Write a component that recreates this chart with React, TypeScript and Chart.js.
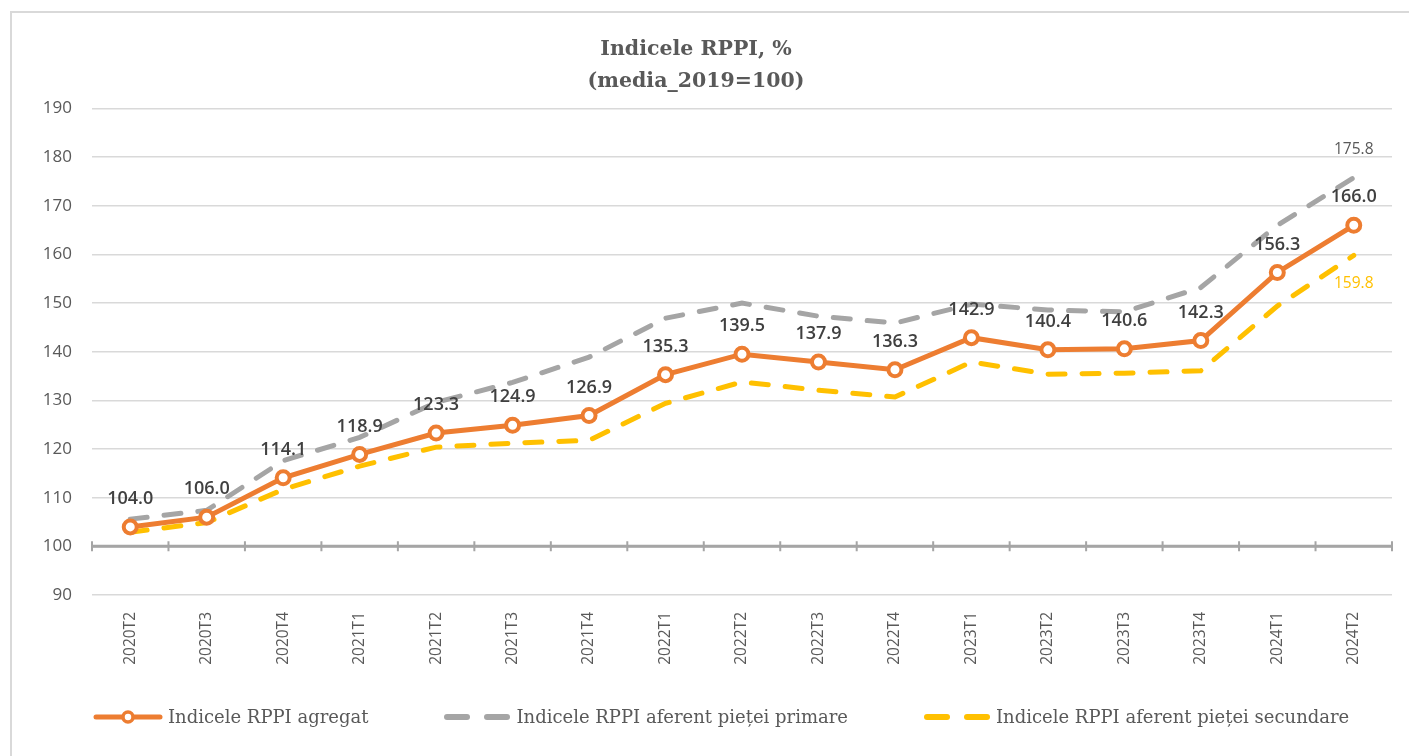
import React, { useEffect, useRef } from 'react';
import { Chart, registerables } from 'chart.js';

Chart.register(...registerables);

const categories = [
  '2020T2', '2020T3', '2020T4', '2021T1', '2021T2', '2021T3', '2021T4', '2022T1', '2022T2',
  '2022T3', '2022T4', '2023T1', '2023T2', '2023T3', '2023T4', '2024T1', '2024T2',
];

const aggregateValues = [104.0, 106.0, 114.1, 118.9, 123.3, 124.9, 126.9, 135.3, 139.5, 137.9, 136.3, 142.9, 140.4, 140.6, 142.3, 156.3, 166.0];
const primaryValues = [105.6, 107.4, 117.6, 122.4, 129.6, 133.7, 138.9, 146.9, 150.0, 147.3, 145.9, 149.8, 148.6, 148.2, 153.2, 166.0, 175.8];
const secondaryValues = [102.9, 104.9, 111.7, 116.5, 120.4, 121.2, 121.8, 129.4, 133.8, 132.1, 130.7, 137.9, 135.4, 135.6, 136.1, 149.4, 159.8];

const seriesNames = [
  'Indicele RPPI agregat',
  'Indicele RPPI aferent pieței primare',
  'Indicele RPPI aferent pieței secundare',
];

const titleLines = ['Indicele RPPI, %', '(media_2019=100)'];

const yMin = 90;
const yMax = 190;
const yStep = 10;
const baseValue = 100;

const ORANGE = '#ED7D31';
const GRAY = '#A5A5A5';
const YELLOW = '#FFC000';
const TEXT = '#595959';

const valueLabelPlugin = {
  id: 'valueLabels',
  afterDatasetsDraw(chart: any) {
    const ctx = chart.ctx;
    chart.data.datasets.forEach((ds: any, di: number) => {
      const cfg = ds.valueLabel;
      if (!cfg) return;
      const meta = chart.getDatasetMeta(di);
      meta.data.forEach((el: any, i: number) => {
        if (cfg.lastOnly && i !== meta.data.length - 1) return;
        const v = ds.data[i];
        ctx.save();
        ctx.font = cfg.font;
        ctx.fillStyle = cfg.color;
        ctx.textAlign = 'center';
        ctx.textBaseline = 'middle';
        ctx.fillText(Number(v).toFixed(1), el.x, el.y + cfg.dy);
        ctx.restore();
      });
    });
  },
};

const baseAxisPlugin = {
  id: 'baseAxis',
  beforeDatasetsDraw(chart: any, _args: any, opts: any) {
    const { ctx, chartArea, scales } = chart;
    const x = scales.x;
    const y = scales.y;
    const yp = y.getPixelForValue(opts.value);
    const n = chart.data.labels.length;
    const step = n > 1 ? x.getPixelForValue(1) - x.getPixelForValue(0) : chartArea.right - chartArea.left;
    ctx.save();
    ctx.strokeStyle = opts.color;
    ctx.lineWidth = 3;
    ctx.beginPath();
    ctx.moveTo(chartArea.left, yp);
    ctx.lineTo(chartArea.right, yp);
    ctx.stroke();
    ctx.lineWidth = 2;
    ctx.beginPath();
    for (let i = 0; i <= n; i++) {
      const px = x.getPixelForValue(0) - step / 2 + i * step;
      ctx.moveTo(px, yp - 5);
      ctx.lineTo(px, yp + 5);
    }
    ctx.stroke();
    ctx.restore();
  },
};

function LegendIcon({ kind, color }: { kind: 'solid' | 'dash'; color: string }) {
  if (kind === 'solid') {
    return (
      <svg width={70} height={20} style={{ display: 'block' }}>
        <line x1={3} y1={10} x2={67} y2={10} stroke={color} strokeWidth={5} strokeLinecap="round" />
        <circle cx={35} cy={10} r={5} fill="#fff" stroke={color} strokeWidth={3.5} />
      </svg>
    );
  }
  return (
    <svg width={68} height={20} style={{ display: 'block' }}>
      <line x1={4} y1={10} x2={24} y2={10} stroke={color} strokeWidth={6} strokeLinecap="round" />
      <line x1={44} y1={10} x2={64} y2={10} stroke={color} strokeWidth={6} strokeLinecap="round" />
    </svg>
  );
}

export default function App() {
  const canvasRef = useRef<HTMLCanvasElement | null>(null);

  useEffect(() => {
    const canvas = canvasRef.current;
    if (!canvas) return;
    const chart = new Chart(canvas, {
      type: 'line',
      data: {
        labels: categories,
        datasets: [
          {
            label: seriesNames[0],
            data: aggregateValues,
            borderColor: ORANGE,
            backgroundColor: ORANGE,
            borderWidth: 5,
            pointRadius: 6.5,
            pointBorderWidth: 4,
            pointBackgroundColor: '#fff',
            pointBorderColor: ORANGE,
            tension: 0,
            order: 0,
            valueLabel: { font: '600 18px "Open Sans", sans-serif', color: '#404040', dy: -28 },
          } as any,
          {
            label: seriesNames[1],
            data: primaryValues,
            borderColor: GRAY,
            backgroundColor: GRAY,
            borderWidth: 5,
            borderDash: [17, 17],
            borderCapStyle: 'round',
            pointRadius: 0,
            tension: 0,
            order: 1,
            valueLabel: { font: '15.5px "Open Sans", sans-serif', color: TEXT, dy: -28, lastOnly: true },
          } as any,
          {
            label: seriesNames[2],
            data: secondaryValues,
            borderColor: YELLOW,
            backgroundColor: YELLOW,
            borderWidth: 5,
            borderDash: [17, 17],
            borderCapStyle: 'round',
            pointRadius: 0,
            tension: 0,
            order: 2,
            valueLabel: { font: '15.5px "Open Sans", sans-serif', color: YELLOW, dy: 28, lastOnly: true },
          } as any,
        ],
      },
      options: {
        responsive: false,
        animation: false,
        layout: { padding: { top: 22, left: 0, right: 17, bottom: 91 } },
        plugins: {
          legend: { display: false },
          tooltip: { enabled: false },
          title: {
            display: true,
            text: titleLines,
            color: TEXT,
            font: { family: '"DejaVu Serif", serif', size: 20.5, weight: 'bold', lineHeight: 1.55 },
            padding: { top: 12, bottom: 11 },
          },
          baseAxis: { value: baseValue, color: GRAY },
        } as any,
        scales: {
          x: {
            offset: true,
            grid: { display: false, drawTicks: false },
            border: { display: false },
            ticks: {
              autoSkip: false,
              minRotation: 90,
              maxRotation: 90,
              padding: 17,
              color: TEXT,
              font: { family: '"Open Sans", sans-serif', size: 15.5 },
            },
            afterFit(scale: any) {
              scale.height = 70;
            },
          },
          y: {
            min: yMin,
            max: yMax,
            grid: { color: '#d9d9d9', lineWidth: 1.5, drawTicks: false },
            border: { display: false },
            ticks: {
              stepSize: yStep,
              padding: 20,
              color: TEXT,
              font: { family: '"Open Sans", sans-serif', size: 17 },
            },
            afterFit(scale: any) {
              scale.width = 92;
            },
          },
        },
      },
      plugins: [baseAxisPlugin, valueLabelPlugin],
    } as any);
    return () => chart.destroy();
  }, []);

  const legendItems = [
    { name: seriesNames[0], kind: 'solid' as const, color: ORANGE },
    { name: seriesNames[1], kind: 'dash' as const, color: GRAY },
    { name: seriesNames[2], kind: 'dash' as const, color: YELLOW },
  ];

  return (
    <div style={{ position: 'fixed', left: 0, top: 0, width: 1409, height: 756, background: '#fff', overflow: 'hidden' }}>
      <div
        style={{
          position: 'absolute',
          left: 10,
          top: 11,
          width: 1420,
          height: 743,
          border: '2px solid #d9d9d9',
        }}
      />
      <canvas ref={canvasRef} width={1409} height={756} style={{ position: 'absolute', left: 0, top: 0 }} />
      <div
        style={{
          position: 'absolute',
          left: 93,
          top: 706,
          display: 'flex',
          alignItems: 'center',
          gap: 75,
          fontFamily: '"DejaVu Serif", serif',
          fontSize: 18,
          color: TEXT,
          whiteSpace: 'nowrap',
        }}
      >
        {legendItems.map((it) => (
          <div key={it.name} style={{ display: 'flex', alignItems: 'center' }}>
            <LegendIcon kind={it.kind} color={it.color} />
            <span style={{ marginLeft: 5 }}>{it.name}</span>
          </div>
        ))}
      </div>
    </div>
  );
}
